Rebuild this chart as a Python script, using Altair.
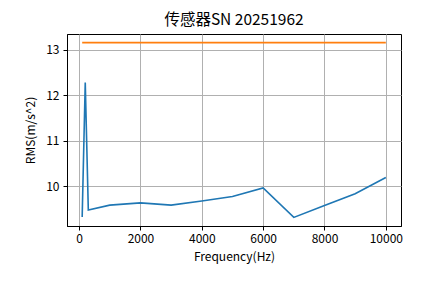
import altair as alt
import pandas as pd

# Data
freq = [100, 200, 300, 1000, 2000, 3000, 4000, 5000, 6000, 7000, 8000, 9000, 10000]
rms = [9.32, 12.28, 9.47, 9.58, 9.63, 9.58, 9.67, 9.77, 9.96, 9.31, 9.57, 9.83, 10.19]
limit_freq = [100, 10000]
limit_val = [13.16, 13.16]
x_ticks = [0, 2000, 4000, 6000, 8000, 10000]
y_ticks = [10, 11, 12, 13]

df_meas = pd.DataFrame({"f": freq, "v": rms, "s": "meas"})
df_lim = pd.DataFrame({"f": limit_freq, "v": limit_val, "s": "limit"})
df = pd.concat([df_meas, df_lim], ignore_index=True)

FONT = "Noto Sans CJK SC"

x = alt.X("f:Q", title="Frequency(Hz)",
          scale=alt.Scale(domain=[-395, 10495], nice=False, zero=False),
          axis=alt.Axis(values=x_ticks, format="d", grid=True))
y = alt.Y("v:Q", title="RMS(m/s^2)",
          scale=alt.Scale(domain=[9.12, 13.35], nice=False, zero=False),
          axis=alt.Axis(values=y_ticks, format="d", grid=True))

chart = alt.Chart(df).mark_line(strokeWidth=1.6).encode(
    x=x, y=y,
    color=alt.Color("s:N", scale=alt.Scale(domain=["meas", "limit"], range=["#1f77b4", "#ff7f0e"]), legend=None),
    detail="s:N",
).properties(
    width=334, height=192,
    title=alt.TitleParams("传感器SN 20251962", font=FONT, fontSize=15.5, fontWeight="normal",
                          color="black", anchor="middle", offset=6),
    autosize=alt.AutoSizeParams(type="none"),
    padding={"left": 67, "top": 34, "right": 44, "bottom": 57},
).configure_view(
    stroke="black", strokeWidth=1
).configure_axis(
    labelFont=FONT, titleFont=FONT, labelFontSize=12, titleFontSize=12,
    labelColor="black", titleColor="black", titleFontWeight="normal",
    domainColor="black", tickColor="black", tickSize=4, labelPadding=3,
    gridColor="#b0b0b0", gridWidth=1, domain=True
).configure_axisY(
    labelPadding=4, titlePadding=8
).configure_axisX(
    titlePadding=7
)

chart.save("out.html", embed_options={"renderer": "svg", "actions": False})
